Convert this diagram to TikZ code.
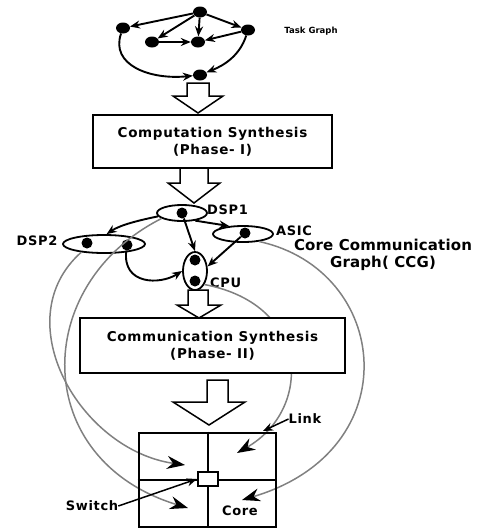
\documentclass[tikz,border=0pt]{standalone}
\usepackage{fontspec}
\setmainfont{DejaVu Sans}
\newfontfamily\lbl[LetterSpace=5]{DejaVu Sans}
\newfontfamily\ccgfont[LetterSpace=1]{DejaVu Sans}
\usetikzlibrary{arrows.meta,shapes.geometric}
\begin{document}
\begin{tikzpicture}[x=1pt,y=-1pt,
  dot/.style={circle,fill=black,inner sep=0,minimum size=11pt},
  tdot/.style={ellipse,fill=black,inner sep=0,minimum width=14pt,minimum height=11pt},
  core/.style={ellipse,draw,line width=1.8pt,inner sep=0},
  lab/.style={font={\lbl\bfseries\fontsize{13}{14}\selectfont},inner sep=0},
  small/.style={font={\bfseries\fontsize{8.5}{10}\selectfont},inner sep=0},
  ccg/.style={font={\ccgfont\bfseries\fontsize{15}{17}\selectfont},inner sep=0,align=center},
  edge/.style={line width=1.9pt,-{Stealth[length=10pt,width=8pt]}},
  map/.style={draw=black!50,line width=1.5pt,-{Stealth[length=18pt,width=13pt,black]}},
  phase/.style={draw,line width=1.5pt,fill=white,align=center,inner sep=0,
    font={\lbl\bfseries\fontsize{13.5}{17}\selectfont}},
  hollow/.style={draw,line width=1.5pt,fill=white,line join=miter}
]
\useasboundingbox (0,0) rectangle (478,528);

% ---------- Task graph ----------
\node[tdot] (t0) at (200,12) {};
\node[tdot] (tl) at (123,28) {};
\node[tdot] (tm) at (152,42) {};
\node[tdot] (tc) at (198,42) {};
\node[tdot] (tr) at (248,30) {};
\node[tdot] (tb) at (200,75) {};
\draw[edge] (t0) -- (tl);
\draw[edge] (t0) -- (tm);
\draw[edge] (t0) -- (tc);
\draw[edge] (t0) -- (tr);
\draw[edge] (tm) -- (tc);
\draw[edge] (tr) -- (tc);
\draw[edge] (tr) .. controls (240,55) and (225,65) .. (tb);
\draw[edge] (tl) .. controls (110,65) and (150,80) .. (tb);
\node[small] (tgl) at (311,31) {Task Graph};

% hollow arrow 1
\draw[hollow] (187,83) -- (187,96) -- (173,96) -- (198,113) -- (223,96) -- (209,96) -- (209,83) -- cycle;

% ---------- Computation synthesis ----------
\node[phase,minimum width=239pt,minimum height=53pt] (comp) at (212.5,141.5)
  {Computation Synthesis\\(Phase- I)};
\draw[hollow] (180,168) -- (180,183) -- (168,183) -- (194,203) -- (220,183) -- (208,183) -- (208,168) -- cycle;

% ---------- CCG ----------
\node[core,minimum width=50pt,minimum height=16pt] (dsp1) at (182,213) {};
\node[dot] (d1) at (182,213) {};
\node[core,minimum width=60pt,minimum height=16pt] (asic) at (243,234) {};
\node[dot] (a1) at (245,233) {};
\node[core,minimum width=82pt,minimum height=18pt] (dsp2) at (104,244) {};
\node[dot] (p1) at (87,243) {};
\node[dot] (p2) at (127,245) {};
\node[core,minimum width=24pt,minimum height=38pt] (cpu) at (195,271) {};
\node[dot] (c1) at (195,260) {};
\node[dot] (c2) at (195,281) {};

\node[lab,anchor=west] (ldsp1) at (207,210) {DSP1};
\node[lab,anchor=west] (lasic) at (276,231) {ASIC};
\node[lab] (ldsp2) at (37,241) {DSP2};
\node[lab,anchor=west] (lcpu) at (210,283) {CPU};
\node[ccg] (ccgl) at (383,255) {Core Communication\\Graph( CCG)};

\draw[edge] (dsp1.188) .. controls (140,220) and (120,225) .. (dsp2.75);
\draw[edge] (d1) -- (cpu.north);
\draw[edge] (dsp1.-30) -- (asic.150);
\draw[edge] (a1) -- (cpu.20);
\draw[edge] (p2) .. controls (122,285) and (160,285) .. (cpu.west);

% ---------- mesh targets ----------
\coordinate (qul) at (185,465);
\coordinate (qll) at (188,508);
\coordinate (qur) at (237,453);
\coordinate (qlr) at (242,500);

% gray mapping curves
\draw[map] (dsp2.200) .. controls (5,320) and (80,450) .. (qul);
\draw[map] (dsp1.195) .. controls (30,285) and (30,460) .. (qll);
\draw[map] (cpu.-55) .. controls (312,305) and (312,410) .. (qur);
\draw[map] (asic.-25) .. controls (390,270) and (410,450) .. (qlr);

% hollow arrow 3
\draw[hollow] (188,290) -- (188,305) -- (177,305) -- (199,318) -- (221,305) -- (208,305) -- (208,290) -- cycle;

% ---------- Communication synthesis ----------
\node[phase,minimum width=265pt,minimum height=55pt] (comm) at (212.5,345.5)
  {Communication Synthesis\\(Phase- II)};
\draw[hollow] (207,380) -- (207,402) -- (173,402) -- (209,425) -- (245,402) -- (228,402) -- (228,380) -- cycle;

% ---------- Mesh ----------
\node[draw,line width=2.6pt,minimum width=137pt,minimum height=94pt,inner sep=0] (mesh) at (207.5,480) {};
\draw[line width=2pt] (mesh.north) -- (mesh.south);
\draw[line width=2pt] (mesh.west) -- (mesh.east);
\node[draw,fill=white,line width=2.2pt,minimum width=20pt,minimum height=14pt,inner sep=0] (swn) at (208,479) {};

\node[lab] (core) at (240,511) {Core};
\node[lab] (swl) at (92,506) {Switch};
\node[lab] (link) at (305,419) {Link};
\coordinate (linktip) at (263,431);
\draw[line width=1.5pt,-{Stealth[length=10pt,width=8pt]}] (swl.east) -- (swn.west);
\draw[line width=1.5pt,-{Stealth[length=10pt,width=8pt]}] (link.west) -- (linktip);
\end{tikzpicture}
\end{document}
